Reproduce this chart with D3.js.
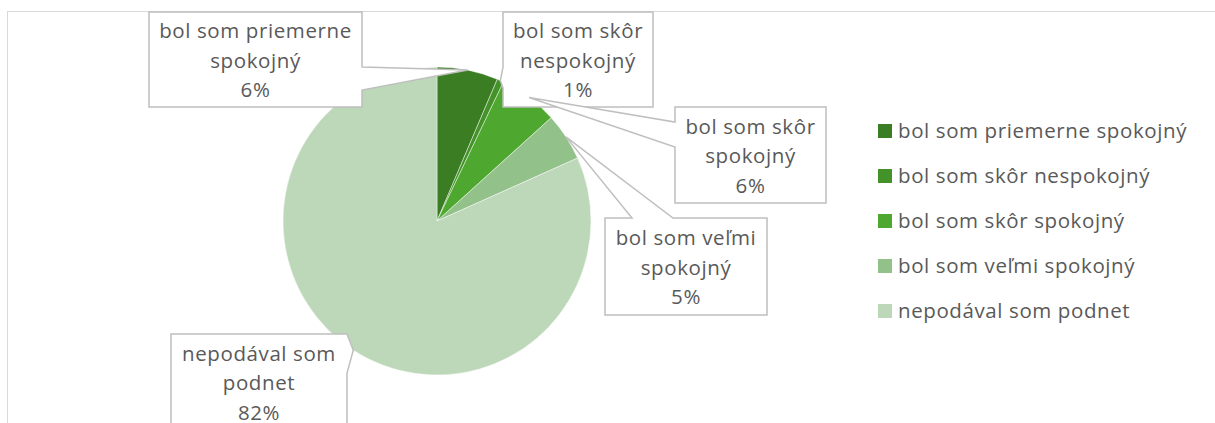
<!DOCTYPE html>
<html>
<head>
<meta charset="utf-8">
<script src="https://cdn.jsdelivr.net/npm/d3@7"></script>
<style>
  body { margin: 0; background: #fff; }
  svg { display: block; font-family: "Open Sans", sans-serif; }
</style>
</head>
<body>
<div id="chartDiv"></div>
<script>
// data (share of respondents, %)
var categories = [
	"bol som priemerne spokojný",
	"bol som skôr nespokojný",
	"bol som skôr spokojný",
	"bol som veľmi spokojný",
	"nepodával som podnet"
];
var values = [6.4, 0.7, 6.2, 5.0, 81.7];
var colors = ["#3a7d22", "#44922a", "#4ea72e", "#93c18a", "#bdd7b9"];

var width = 1215, height = 423;
var cx = 437, cy = 221, radius = 154;

// callout boxes: x, y, w, h, side the leader wedge leaves from, wedge base [a, b]
var callouts = [
	{x: 149, y: 12, w: 213, h: 95, side: "right", a: 67, b: 90},
	{x: 503, y: 12, w: 150, h: 95, side: "left", a: 67, b: 88},
	{x: 675, y: 107, w: 151, h: 96, side: "left", a: 122, b: 147},
	{x: 605, y: 218, w: 162, h: 97, side: "top", a: 632, b: 673},
	{x: 171, y: 334, w: 176, h: 96, side: "right", a: 334, b: 373}
];

var svg = d3.select("#chartDiv").append("svg")
	.attr("width", width)
	.attr("height", height);

// chart area border (cropped)
svg.append("rect")
	.attr("x", 7.5).attr("y", 11.5)
	.attr("width", 1300).attr("height", 600)
	.attr("fill", "none")
	.attr("stroke", "#d9d9d9")
	.attr("stroke-width", 1);

var pie = d3.pie().sort(null).value(function(d) { return d; });
var arcs = pie(values);
var total = d3.sum(values);
var arc = d3.arc().innerRadius(0).outerRadius(radius);

var g = svg.append("g").attr("transform", "translate(" + cx + "," + cy + ")");
g.selectAll("path.slice")
	.data(arcs)
	.enter().append("path")
	.attr("class", "slice")
	.attr("d", arc)
	.attr("fill", function(d, i) { return colors[i]; })
	.attr("stroke", "#ffffff")
	.attr("stroke-opacity", 0.6)
	.attr("stroke-width", 0.75);

function calloutPath(c, p) {
	var x0 = c.x, y0 = c.y, x1 = c.x + c.w, y1 = c.y + c.h;
	var pts;
	if (c.side === "right") {
		pts = [[x0, y0], [x1, y0], [x1, c.a], p, [x1, c.b], [x1, y1], [x0, y1]];
	} else if (c.side === "left") {
		pts = [[x0, y0], [x1, y0], [x1, y1], [x0, y1], [x0, c.b], p, [x0, c.a]];
	} else {
		pts = [[x0, y0], [c.a, y0], p, [c.b, y0], [x1, y0], [x1, y1], [x0, y1]];
	}
	return "M" + pts.map(function(q) { return q[0] + "," + q[1]; }).join("L") + "Z";
}

var labels = svg.append("g").attr("class", "labels");
arcs.forEach(function(d, i) {
	var c = callouts[i];
	var mid = (d.startAngle + d.endAngle) / 2;
	var p = [cx + radius * Math.sin(mid), cy - radius * Math.cos(mid)];
	labels.append("path")
		.attr("d", calloutPath(c, p))
		.attr("fill", "#ffffff")
		.attr("stroke", "#bfbfbf")
		.attr("stroke-width", 1.5)
		.attr("stroke-linejoin", "miter");

	var words = categories[i].split(" ");
	var lines = [words.slice(0, -1).join(" "), words[words.length - 1],
		Math.round(d.value / total * 100) + "%"];
	var midY = c.y + c.h / 2 + 1;
	var t = labels.append("text")
		.attr("text-anchor", "middle")
		.attr("fill", "#595959")
		.style("font-size", "20.5px")
		.style("letter-spacing", "0.6px");
	lines.forEach(function(s, k) {
		t.append("tspan")
			.attr("x", c.x + c.w / 2)
			.attr("y", midY + (k - 1) * 29.5)
			.attr("dy", "0.35em")
			.text(s);
	});
});

// legend
var legend = svg.append("g").attr("transform", "translate(878,131)");
var item = legend.selectAll("g")
	.data(categories)
	.enter().append("g")
	.attr("transform", function(d, i) { return "translate(0," + (i * 45) + ")"; });
item.append("rect")
	.attr("x", 0).attr("y", -7)
	.attr("width", 14).attr("height", 14)
	.attr("fill", function(d, i) { return colors[i]; });
item.append("text")
	.attr("x", 20).attr("y", 0)
	.attr("dy", "0.35em")
	.attr("fill", "#595959")
	.style("font-size", "20.5px")
	.style("letter-spacing", "0.6px")
	.text(function(d) { return d; });
</script>
</body>
</html>
